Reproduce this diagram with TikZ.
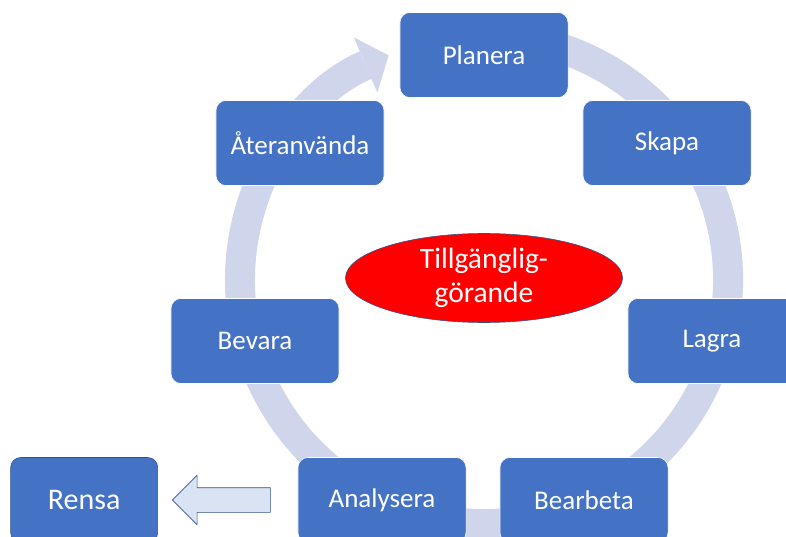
\documentclass[tikz,border=0pt]{standalone}
\usepackage{fontspec}
\setmainfont{Carlito}
\usepackage{xcolor}
\usepackage{tikz}
\usetikzlibrary{positioning}
\usetikzlibrary{arrows.meta}
\usetikzlibrary{shapes.geometric}
\usetikzlibrary{shapes.arrows}

\definecolor{boxblue}{HTML}{4472C4}
\definecolor{edgeblue}{HTML}{2F528F}
\definecolor{ringgray}{HTML}{CFD5EA}
\definecolor{paleblue}{HTML}{DAE3F3}

\begin{document}
\begin{tikzpicture}[x = 0.025cm, y = 0.025cm, semithick, stage/.style = {rectangle, rounded corners = 0.25cm, fill = boxblue, draw = white, thin, text = white, minimum width = 4.2cm, minimum height = 2.125cm, font = \fontsize{19.2}{23}\selectfont}, hub/.style = {ellipse, fill = red, draw = edgeblue, thin, text = white, inner sep = 0pt, minimum width = 6.925cm, minimum height = 2.225cm, align = center, font = \fontsize{21}{24.2}\selectfont}, ring/.style = {draw = ringgray, line width = 0.75cm, -{Triangle[length = 0.625cm, width = 1.5cm, line width = 0pt]}}, back/.style = {single arrow, shape border rotate = 180, fill = paleblue, draw = edgeblue, thin, inner xsep = 0pt, inner ysep = 0.3cm, minimum height = 2.45cm, minimum width = 1.225cm, single arrow head extend = 0.3125cm, single arrow tip angle = 90}]
\useasboundingbox (0,0) rectangle (786,-537);
\coordinate (mid) at (484,-280);
\draw[ring] (mid) ++(85:6.1cm) arc[start angle = 85, end angle = -247, radius = 6.1cm];
\node[stage] (plan) at (484,-55) {Planera};
\node[stage] (skapa) at (667,-143) {Skapa};
\node[stage] (lagra) at (712,-341) {Lagra};
\node[stage] (bearb) at (584,-500) {Bearbeta};
\node[stage] (analys) at (382,-500) {Analysera};
\node[stage] (bevara) at (255,-341) {Bevara};
\node[stage] (ater) at (300,-143) {Återanvända};
\node[hub] (hub) at (484,-278) {Tillgänglig-\\görande};
\node[back] (out) [left = 0.675cm of analys] {};
\node[stage, draw = edgeblue, minimum width = 3.675cm, font = \fontsize{21.3}{25}\selectfont] (rensa) [left = 0.35cm of out] {Rensa};
\end{tikzpicture}
\end{document}
